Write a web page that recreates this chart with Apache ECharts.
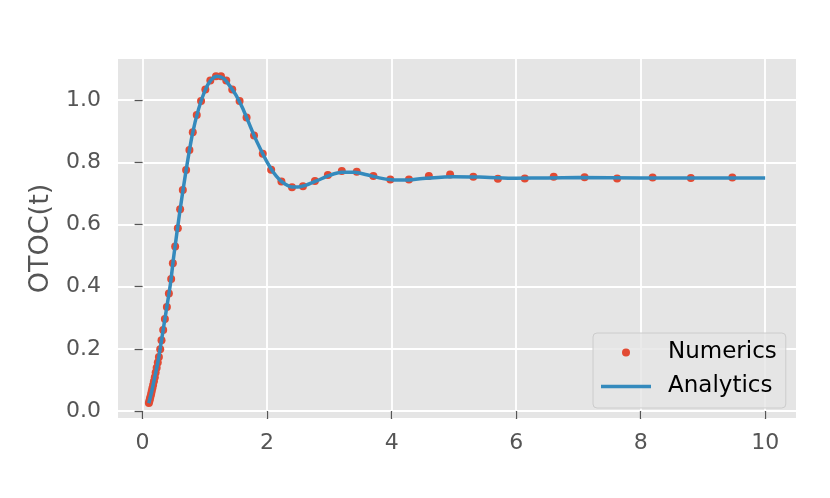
<!DOCTYPE html>
<html>
<head>
<meta charset="utf-8">
<script src="https://cdn.jsdelivr.net/npm/echarts@6/dist/echarts.min.js"></script>
<style>
  html, body { margin: 0; padding: 0; background: #fff; }
  #chart { width: 830px; height: 498px; }
</style>
</head>
<body>
<div id="chart"></div>
<script>
// numerics (red dots)
var numericsT = [0.101, 0.109, 0.117, 0.126, 0.136, 0.146, 0.157, 0.169, 0.182, 0.196,
  0.210, 0.226, 0.244, 0.262, 0.283, 0.304, 0.331, 0.358, 0.390, 0.422,
  0.459, 0.486, 0.523, 0.566, 0.603, 0.646, 0.699, 0.752, 0.806, 0.870,
  0.939, 1.008, 1.088, 1.179, 1.259, 1.344, 1.440, 1.558, 1.670, 1.790,
  1.930, 2.065, 2.230, 2.400, 2.576, 2.768, 2.976, 3.200, 3.440, 3.707,
  3.979, 4.278, 4.598, 4.939, 5.312, 5.707, 6.139, 6.603, 7.099, 7.622,
  8.192, 8.806, 9.472];
var numericsV = [0.026, 0.032, 0.039, 0.046, 0.054, 0.063, 0.073, 0.084, 0.096, 0.109,
  0.124, 0.139, 0.156, 0.174, 0.199, 0.228, 0.261, 0.296, 0.335, 0.378,
  0.425, 0.475, 0.529, 0.588, 0.649, 0.711, 0.775, 0.840, 0.897, 0.952,
  0.997, 1.034, 1.063, 1.077, 1.077, 1.063, 1.034, 0.997, 0.944, 0.886,
  0.828, 0.776, 0.738, 0.720, 0.723, 0.740, 0.759, 0.772, 0.770, 0.756,
  0.745, 0.745, 0.756, 0.761, 0.754, 0.747, 0.748, 0.754, 0.752, 0.748,
  0.751, 0.750, 0.751];

// analytics (blue curve)
var analyticsT = [0.1, 0.15, 0.2, 0.25, 0.3, 0.35, 0.4, 0.45, 0.5, 0.6, 0.7, 0.8, 0.9,
  1.0, 1.1, 1.2, 1.3, 1.4, 1.5, 1.6, 1.7, 1.8, 1.9, 2.0, 2.1, 2.2, 2.3, 2.4, 2.5,
  2.6, 2.8, 3.0, 3.2, 3.4, 3.6, 3.8, 4.0, 4.2, 4.5, 5.0, 5.5, 6.0, 6.5, 7.0, 8.0,
  9.0, 10.0];
var analyticsV = [0.025, 0.066, 0.113, 0.162, 0.222, 0.286, 0.348, 0.413, 0.497, 0.644,
  0.776, 0.891, 0.972, 1.030, 1.065, 1.077, 1.070, 1.046, 1.016, 0.977, 0.930, 0.882,
  0.840, 0.801, 0.768, 0.744, 0.729, 0.721, 0.721, 0.725, 0.741, 0.758, 0.768, 0.768,
  0.760, 0.750, 0.744, 0.743, 0.748, 0.754, 0.752, 0.749, 0.750, 0.751, 0.750, 0.750,
  0.750];

var xTicks = [0, 2, 4, 6, 8, 10];
var yTicks = [0, 0.2, 0.4, 0.6, 0.8, 1.0];

var font = 'DejaVu Sans';
var chart = echarts.init(document.getElementById('chart'));

var option = {
  animation: false,
  backgroundColor: '#ffffff',
  grid: {
    left: 118, top: 59, right: 34, bottom: 80,
    show: true, backgroundColor: '#E5E5E5', borderWidth: 0
  },
  legend: {
    orient: 'vertical',
    left: 593, top: 333,
    padding: [8, 9, 10, 8],
    backgroundColor: 'rgba(229,229,229,0.8)',
    borderColor: '#CCCCCC',
    borderWidth: 1,
    borderRadius: 4,
    itemWidth: 50,
    itemHeight: 8,
    itemGap: 11,
    textStyle: { fontFamily: font, fontSize: 23, color: '#000', lineHeight: 22, padding: [0, 0, 0, 12] },
    data: [
      { name: 'Numerics', icon: 'circle', itemStyle: { color: '#E24A33', opacity: 1 } },
      { name: 'Analytics', icon: 'path://M0,0 L50,0 L50,3.4 L0,3.4 Z', itemStyle: { color: '#348ABD' } }
    ]
  },
  xAxis: {
    type: 'value',
    min: -0.395, max: 10.495,
    axisLine: { show: false },
    axisTick: { show: true, customValues: xTicks, length: 8, lineStyle: { color: '#555555', width: 1.3 } },
    axisLabel: {
      customValues: xTicks, margin: 14,
      fontFamily: font, fontSize: 22, color: '#555555',
      formatter: function (v) { return String(v); }
    },
    splitLine: { show: true, lineStyle: { color: '#ffffff', width: 1.8 } }
  },
  yAxis: {
    type: 'value',
    min: -0.0225, max: 1.1325,
    name: 'OTOC(t)',
    nameLocation: 'middle',
    nameGap: 64,
    nameTextStyle: { fontFamily: font, fontSize: 27, color: '#555555' },
    axisLine: { show: false },
    axisTick: { show: true, customValues: yTicks, length: 8, lineStyle: { color: '#555555', width: 1.3 } },
    axisLabel: {
      customValues: yTicks, margin: 17,
      fontFamily: font, fontSize: 22, color: '#555555',
      formatter: function (v) { return v.toFixed(1); }
    },
    splitLine: { show: true, lineStyle: { color: '#ffffff', width: 1.8 } }
  },
  series: [
    {
      name: 'Numerics',
      type: 'scatter',
      z: 2,
      symbol: 'circle',
      symbolSize: 8,
      itemStyle: { color: '#E24A33', opacity: 1 },
      data: numericsT.map(function (t, i) { return [t, numericsV[i]]; })
    },
    {
      name: 'Analytics',
      type: 'line',
      z: 3,
      smooth: 0.3,
      showSymbol: false,
      symbol: 'none',
      lineStyle: { color: '#348ABD', width: 3.5 },
      itemStyle: { color: '#348ABD' },
      data: analyticsT.map(function (t, i) { return [t, analyticsV[i]]; })
    }
  ]
};
chart.setOption(option);
</script>
</body>
</html>
